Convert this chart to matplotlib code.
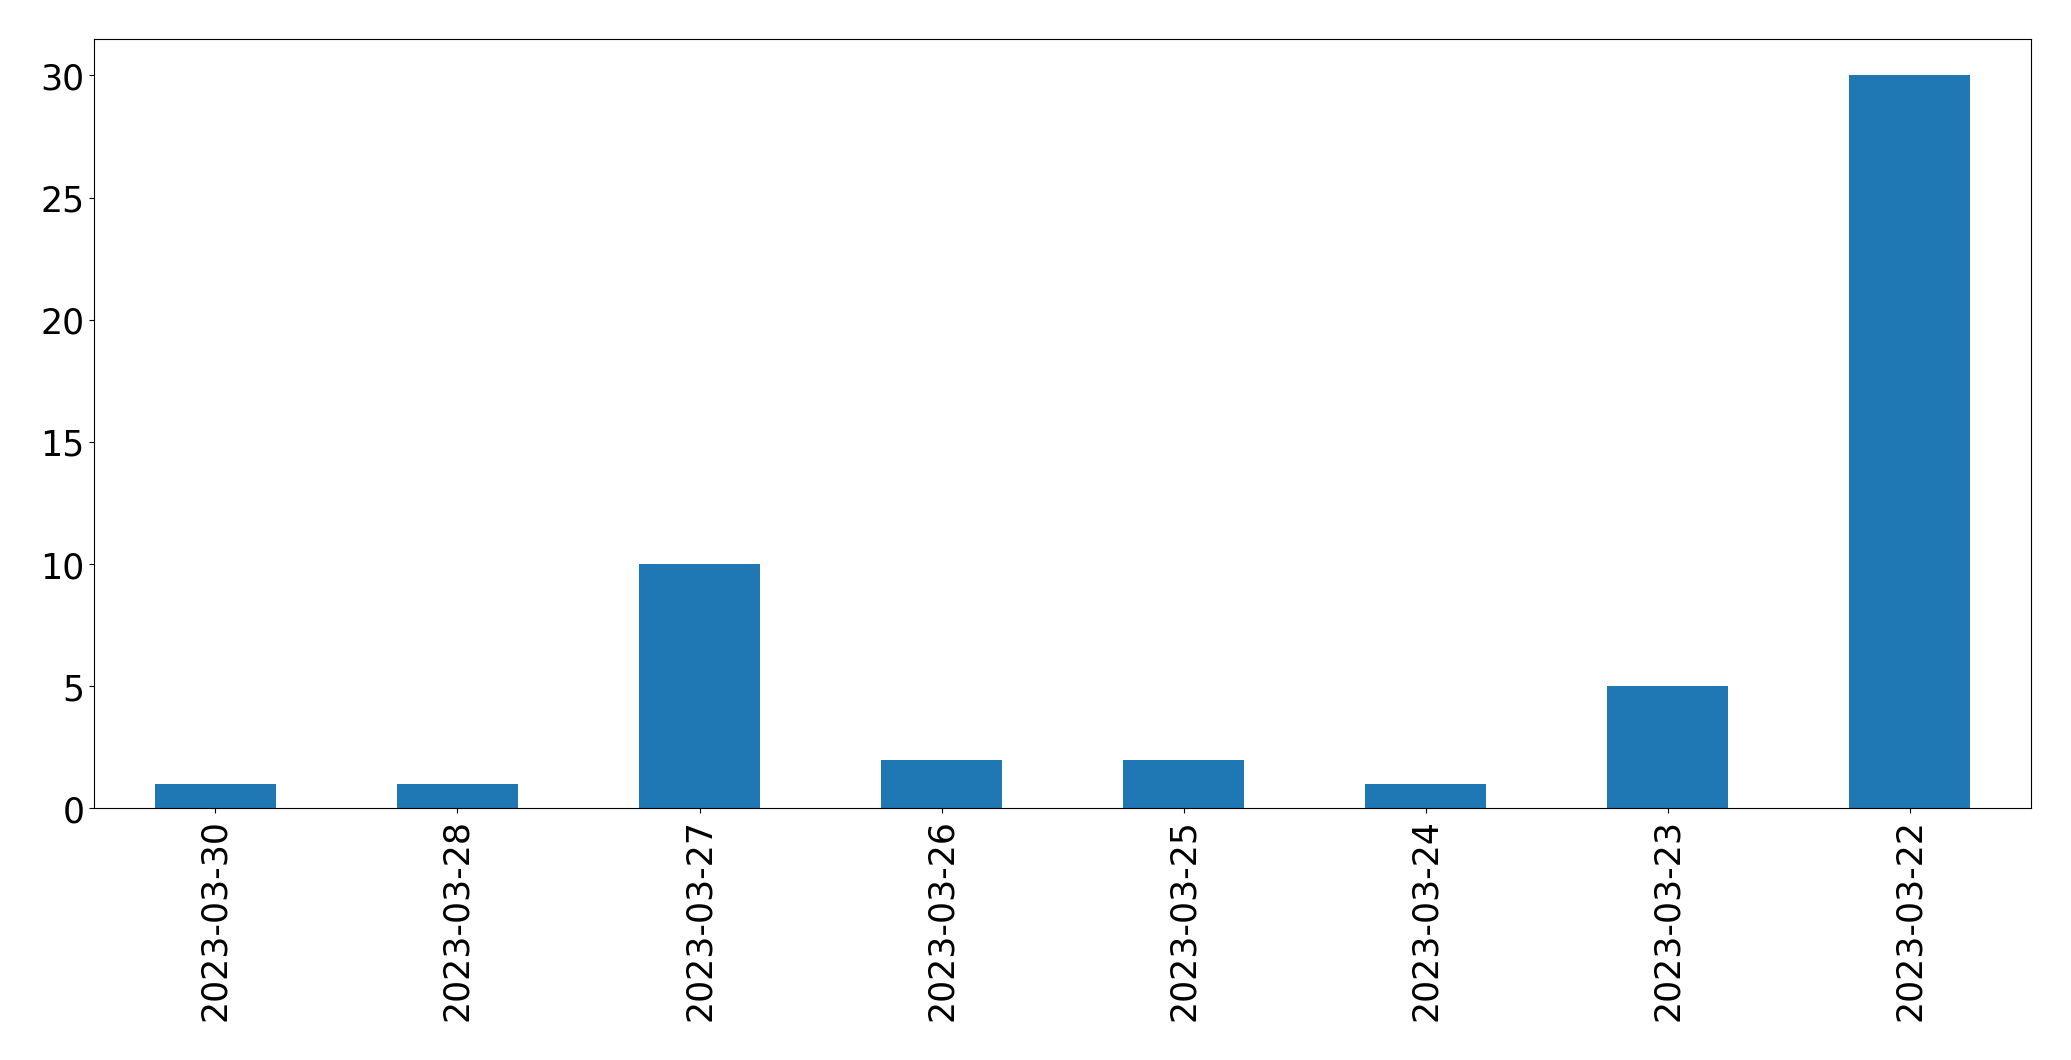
import matplotlib
matplotlib.use("Agg")
import matplotlib.pyplot as plt
import numpy as np

dates = ['2023-03-30', '2023-03-28', '2023-03-27', '2023-03-26',
         '2023-03-25', '2023-03-24', '2023-03-23', '2023-03-22']
counts = [1, 1, 10, 2, 2, 1, 5, 30]

fig = plt.figure(figsize=(20.71, 10.605), dpi=100)
ax = fig.add_axes([94.3 / 2071, 1 - 809.3 / 1061, (2031 - 94.3) / 2071, (809.3 - 39.3) / 1061])

x = np.arange(len(dates))
ax.bar(x, counts, width=0.5, color='#1f77b4')
ax.set_xlim(-0.5, len(dates) - 0.5)
ax.set_ylim(0, max(counts) * 1.05)
ax.set_xticks(x)
ax.set_xticklabels(dates, rotation=90)
ax.tick_params(labelsize=25)

fig.savefig('out.png', dpi=100)
